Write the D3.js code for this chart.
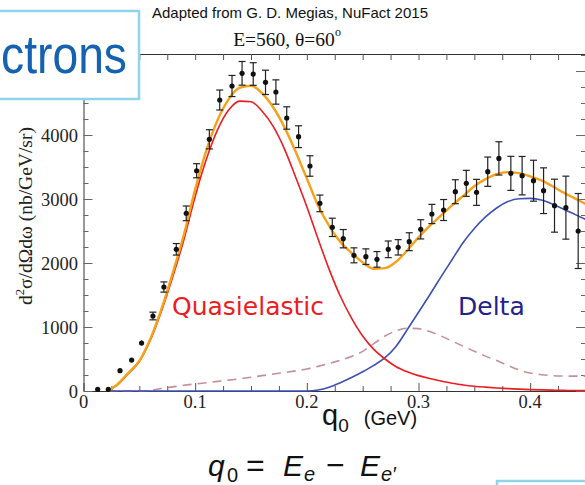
<!DOCTYPE html>
<html>
<head>
<meta charset="utf-8">
<script src="https://cdn.jsdelivr.net/npm/d3@7"></script>
<style>
  html, body { margin: 0; padding: 0; background: #fff; }
  svg { display: block; }
</style>
</head>
<body>
<svg id="chart" width="585" height="485"></svg>
<script>
// Measured electron cross section (nb/GeV/sr) versus energy transfer q0 (GeV)
const dataQ0 = [0.0127, 0.0222, 0.0327, 0.0431, 0.052, 0.0622, 0.072, 0.0831, 0.092, 0.1013,
                0.1127, 0.122, 0.133, 0.142, 0.152, 0.163, 0.1723, 0.182, 0.1926, 0.2028,
                0.2117, 0.2228, 0.2326, 0.2422, 0.2529, 0.2628, 0.2729, 0.2818, 0.2917, 0.302,
                0.312, 0.3225, 0.333, 0.3428, 0.352, 0.362, 0.372, 0.3827, 0.3928, 0.403,
                0.412, 0.4218, 0.432, 0.443];
const dataXsec = [26, 26, 318, 484, 750, 1172, 1625, 2214, 2776, 3442,
                  3933, 4547, 4766, 4964, 4953, 4823, 4672, 4266, 3974, 3516,
                  2932, 2557, 2380, 2120, 2099, 2057, 2214, 2245, 2333, 2526,
                  2766, 2828, 3114, 3245, 3104, 3427, 3635, 3401, 3365, 3286,
                  3130, 2896, 2865, 2500];
const dataErr = [10, 10, 25, 30, 40, 60, 80, 90, 115, 110,
                 150, 156, 165, 185, 177, 190, 190, 175, 170, 160,
                 130, 143, 143, 117, 122, 122, 130, 120, 140, 150,
                 150, 164, 187, 203, 203, 229, 260, 266, 300, 320,
                 357, 414, 492, 586];

// Model curves
const modelQ0 = [0.022, 0.03, 0.04, 0.05, 0.06, 0.07, 0.08, 0.09, 0.10, 0.11,
                 0.12, 0.13, 0.14, 0.15, 0.16, 0.17, 0.18, 0.19, 0.20, 0.21,
                 0.22, 0.23, 0.24, 0.25, 0.26, 0.27, 0.28, 0.29, 0.30, 0.31,
                 0.32, 0.33, 0.34, 0.35, 0.36, 0.37, 0.38, 0.39, 0.40, 0.41,
                 0.42, 0.43, 0.44, 0.45];
const totalModel = [0, 100, 280, 470, 820, 1290, 1850, 2450, 3150, 3760,
                    4230, 4560, 4740, 4770, 4650, 4430, 4120, 3740, 3320, 2900,
                    2580, 2330, 2160, 2010, 1910, 1920, 2020, 2200, 2400, 2580,
                    2740, 2900, 3050, 3200, 3310, 3390, 3420, 3405, 3355, 3290,
                    3200, 3100, 3010, 2920];
const quasielastic = [0, 90, 270, 460, 800, 1260, 1790, 2370, 3040, 3620,
                      4080, 4390, 4530, 4520, 4370, 4130, 3780, 3340, 2880, 2380,
                      1900, 1480, 1140, 860, 650, 500, 380, 300, 240, 195,
                      155, 120, 95, 75, 60, 47, 37, 29, 22, 17,
                      13, 10, 7, 5];
const deltaModel = [0, 0, 0, 0, 0, 0, 0, 0, 0, 0,
                    0, 0, 0, 0, 0, 0, 0, 0, 0, 15,
                    60, 130, 210, 300, 400, 520, 700, 960, 1230, 1500,
                    1780, 2050, 2320, 2540, 2720, 2860, 2960, 3005, 3010, 2985,
                    2920, 2840, 2760, 2680];
const mecModel = [0, 0, 0, 0, 10, 40, 65, 90, 110, 130,
                  150, 170, 190, 215, 240, 265, 290, 315, 345, 385,
                  430, 480, 540, 620, 740, 860, 940, 980, 975, 930,
                  860, 780, 700, 620, 545, 475, 400, 330, 280, 255,
                  240, 234, 232, 232];

const xTickValues = [0, 0.1, 0.2, 0.3, 0.4];
const xTickLabels = ["0", "0.1", "0.2", "0.3", "0.4"];
const yTickValues = [0, 1000, 2000, 3000, 4000];
const yTickLabels = ["0", "1000", "2000", "3000", "4000"];

const svg = d3.select("#chart");
const plot = { left: 83.5, right: 586, top: 54, bottom: 391 };

const x = d3.scaleLinear().domain([0, 0.45]).range([plot.left, plot.right]);
const y = d3.scaleLinear().domain([0, 5266]).range([plot.bottom, plot.top]);

const axisColor = "#333";
const serif = "'Liberation Serif', 'Times New Roman', serif";
const sans = "'Liberation Sans', Arial, sans-serif";

// Frame with inward ticks on all four sides
const minorX = d3.range(0, 0.4501, 0.025);
const minorY = d3.range(0, 5251, 250);

const bottomAxis = d3.axisBottom(x).tickValues(minorX).tickFormat("")
  .tickSizeInner(-5).tickSizeOuter(0);
svg.append("g").attr("transform", `translate(0,${plot.bottom})`).call(bottomAxis)
  .call(g => g.selectAll(".tick line").attr("y2", d => Math.abs(d * 10 - Math.round(d * 10)) < 1e-6 ? -8 : -5))
  .call(g => g.select(".domain").attr("stroke", axisColor))
  .call(g => g.selectAll(".tick line").attr("stroke", "#555"));

const topAxis = d3.axisTop(x).tickValues(minorX).tickFormat("")
  .tickSizeInner(-6).tickSizeOuter(0);
svg.append("g").attr("transform", `translate(0,${plot.top})`).call(topAxis)
  .call(g => g.select(".domain").attr("stroke", axisColor))
  .call(g => g.selectAll(".tick line").attr("stroke", "#555"));

const leftAxis = d3.axisLeft(y).tickValues(minorY).tickFormat("")
  .tickSizeInner(-5).tickSizeOuter(0);
svg.append("g").attr("transform", `translate(${plot.left},0)`).call(leftAxis)
  .call(g => g.selectAll(".tick line").attr("x2", d => d % 1000 === 0 ? 9 : 5))
  .call(g => g.select(".domain").attr("stroke", axisColor))
  .call(g => g.selectAll(".tick line").attr("stroke", "#666"));

const rightAxis = d3.axisRight(y).tickValues(minorY).tickFormat("")
  .tickSizeInner(-5).tickSizeOuter(0);
svg.append("g").attr("transform", `translate(${plot.right},0)`).call(rightAxis)
  .call(g => g.selectAll(".tick line").attr("x2", d => d % 1000 === 0 ? -10 : -5))
  .call(g => g.select(".domain").attr("stroke", axisColor))
  .call(g => g.selectAll(".tick line").attr("stroke", "#666"));

// Tick labels
svg.append("g").selectAll("text").data(xTickValues).join("text")
  .attr("x", d => x(d)).attr("y", plot.bottom + 16.5)
  .attr("text-anchor", "middle")
  .attr("font-family", serif).attr("font-size", 18.5).attr("fill", "#222")
  .text((d, i) => xTickLabels[i]);

svg.append("g").selectAll("text").data(yTickValues).join("text")
  .attr("x", 78).attr("y", d => y(d) + 6.5)
  .attr("text-anchor", "end")
  .attr("font-family", serif).attr("font-size", 18.5).attr("fill", "#222")
  .text((d, i) => yTickLabels[i]);

// Axis titles
const yTitle = svg.append("text")
  .attr("transform", "translate(32,216) rotate(-90)")
  .attr("text-anchor", "middle")
  .attr("font-family", serif).attr("font-size", 19.5).attr("fill", "#222");
yTitle.append("tspan").text("d");
yTitle.append("tspan").attr("font-size", 12.5).attr("dy", -8).text("2");
yTitle.append("tspan").attr("dy", 8).text("σ/dΩdω (nb/GeV/sr)");

const xTitle = svg.append("text").attr("x", 322).attr("y", 425)
  .attr("font-family", sans).attr("fill", "#111");
xTitle.append("tspan").attr("font-size", 29).text("q");
xTitle.append("tspan").attr("font-size", 19).attr("dy", 7).text("0");
xTitle.append("tspan").attr("font-size", 20).attr("dy", -7).attr("dx", 15).text("(GeV)");

// Headings
svg.append("text").attr("x", 290).attr("y", 18).attr("text-anchor", "middle")
  .attr("font-family", sans).attr("font-size", 15).attr("fill", "#111")
  .text("Adapted from G. D. Megias, NuFact 2015");
const sub = svg.append("text").attr("x", 287).attr("y", 46).attr("text-anchor", "middle")
  .attr("font-family", serif).attr("font-size", 19.5).attr("fill", "#111");
sub.append("tspan").text("E=560, θ=60");
sub.append("tspan").attr("font-size", 12).attr("dy", -10).text("o");

// Model curves
const lineGen = vals => d3.line()
  .x((d, i) => x(modelQ0[i]))
  .y(d => y(d))
  .curve(d3.curveMonotoneX)(vals);

const body = svg.append("g");
body.append("path").attr("d", lineGen(mecModel)).attr("fill", "none")
  .attr("stroke", "#c4909c").attr("stroke-width", 1.6).attr("stroke-dasharray", "9,6");
body.append("path").attr("d", lineGen(deltaModel)).attr("fill", "none")
  .attr("stroke", "#3d50b4").attr("stroke-width", 1.6);
body.append("path").attr("d", lineGen(quasielastic)).attr("fill", "none")
  .attr("stroke", "#ec1c24").attr("stroke-width", 1.6);
body.append("path").attr("d", lineGen(totalModel)).attr("fill", "none")
  .attr("stroke", "#f7a11a").attr("stroke-width", 2.4);

// Data with error bars
const pts = body.append("g").selectAll("g").data(dataQ0).join("g");
pts.append("line")
  .attr("x1", d => x(d)).attr("x2", d => x(d))
  .attr("y1", (d, i) => y(dataXsec[i] - dataErr[i]))
  .attr("y2", (d, i) => y(dataXsec[i] + dataErr[i]))
  .attr("stroke", "#222").attr("stroke-width", 1.2);
pts.each(function(d, i) {
  if (dataErr[i] < 50) return;
  const g = d3.select(this);
  [dataXsec[i] - dataErr[i], dataXsec[i] + dataErr[i]].forEach(v => {
    g.append("line").attr("x1", x(d) - 3.5).attr("x2", x(d) + 3.5)
      .attr("y1", y(v)).attr("y2", y(v))
      .attr("stroke", "#222").attr("stroke-width", 1.2);
  });
});
pts.append("circle")
  .attr("cx", d => x(d)).attr("cy", (d, i) => y(dataXsec[i]))
  .attr("r", 2.6).attr("fill", "#111");

// Component labels
svg.append("text").attr("x", 172).attr("y", 315)
  .attr("font-family", "'DejaVu Sans', sans-serif").attr("font-size", 25).attr("fill", "#ec1c24")
  .text("Quasielastic");
svg.append("text").attr("x", 458).attr("y", 315)
  .attr("font-family", "'DejaVu Sans', sans-serif").attr("font-size", 25).attr("fill", "#22228c")
  .text("Delta");

// Energy transfer definition: q0 = Ee − Ee'
const fy = 476;
const fItalic = (xp, s, size) => svg.append("text").attr("x", xp).attr("y", fy)
  .attr("font-family", sans).attr("font-style", "italic").attr("font-size", size || 30)
  .attr("fill", "#111").text(s);
const fUpright = (xp, s, size, yy) => svg.append("text").attr("x", xp).attr("y", yy || fy)
  .attr("font-family", sans).attr("font-size", size || 30)
  .attr("fill", "#111").text(s);
fItalic(208, "q");
fUpright(227, "0", 20, fy + 6);
fUpright(246, "=", 32);
fItalic(283, "E");
fItalic(304, "e", 20).attr("y", fy + 5);
fUpright(326, "−", 32);
fItalic(360, "E");
fItalic(381, "e′", 20).attr("y", fy + 5);

// Slide panels overlapping the figure
svg.append("rect").attr("x", -10).attr("y", 11).attr("width", 149).attr("height", 88)
  .attr("fill", "#fff").attr("stroke", "#8fd4ea").attr("stroke-width", 2.5);
svg.append("text").attr("x", 1).attr("y", 73)
  .attr("font-family", sans).attr("font-size", 54).attr("fill", "#1562b0")
  .attr("textLength", 126).attr("lengthAdjust", "spacingAndGlyphs")
  .text("ctrons");
svg.append("rect").attr("x", 497).attr("y", 481).attr("width", 100).attr("height", 20)
  .attr("fill", "#fff").attr("stroke", "#8fd4ea").attr("stroke-width", 2.5);
</script>
</body>
</html>
